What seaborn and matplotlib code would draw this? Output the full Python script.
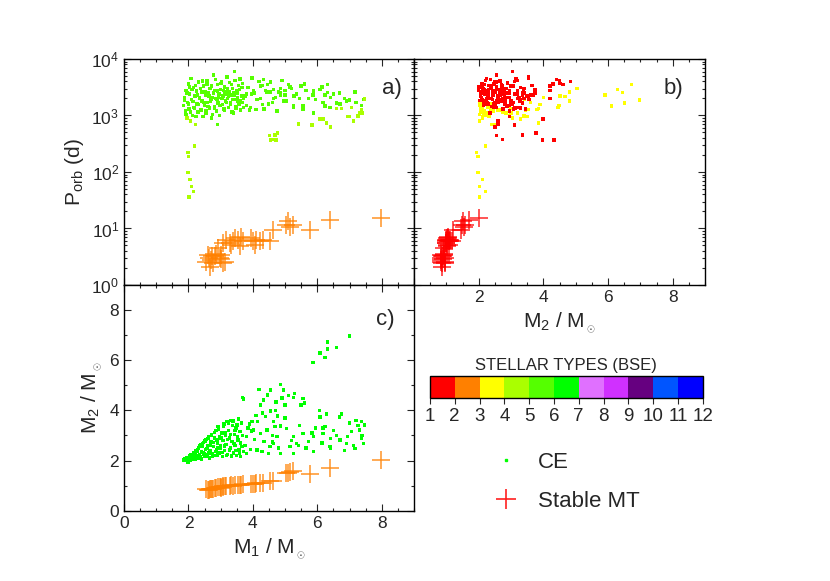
import numpy as np
import pandas as pd
import seaborn as sns
import matplotlib as mpl
import matplotlib.pyplot as plt
from matplotlib.colors import ListedColormap, BoundaryNorm
from matplotlib.lines import Line2D
from matplotlib.ticker import MultipleLocator, LogLocator, NullFormatter

# ---- common envelope systems (M1, M2 in Msun, Porb in days, stellar types) ----
ce_m1 = [
    # short period tail
    1.99, 2.01, 2.19, 1.99, 2.05, 2.10, 2.15, 2.02,
    # clump near 400 d
    4.52, 4.60, 4.68, 4.77, 4.55, 4.72,
    # main cloud
    1.85, 1.88, 1.90, 1.93, 1.95, 1.97, 2.00, 2.02, 2.04, 2.06,
    2.08, 2.10, 2.12, 2.15, 2.17, 2.20, 2.22, 2.25, 2.27, 2.30,
    2.32, 2.35, 2.37, 2.40, 2.42, 2.45, 2.47, 2.50, 2.52, 2.55,
    2.57, 2.60, 2.62, 2.65, 2.67, 2.70, 2.72, 2.75, 2.77, 2.80,
    2.82, 2.85, 2.87, 2.90, 2.92, 2.95, 2.97, 3.00, 3.02, 3.05,
    3.07, 3.10, 3.12, 3.15, 3.17, 3.20, 3.22, 3.25, 3.27, 3.30,
    3.32, 3.35, 3.37, 3.40, 3.42, 3.45, 3.47, 3.50, 3.52, 3.55,
    3.57, 3.60, 3.62, 3.64, 3.67, 3.70,
    3.61, 3.40, 3.66, 3.81, 3.81, 3.97, 4.02, 4.13, 4.24, 4.34,
    4.44, 4.64, 4.55, 4.49, 4.85, 5.26, 4.64, 4.75, 4.85, 5.05,
    5.15, 5.26, 5.35, 5.56, 5.72, 5.88, 5.88, 6.18, 6.24, 6.39,
    6.41, 6.70, 6.91, 7.17, 7.43, 7.37, 7.06, 7.31, 7.46, 7.37,
    7.00, 6.06, 6.29, 6.75, 6.68, 6.08,
    4.19, 4.85, 4.54, 4.46, 4.33, 4.23, 4.95, 5.26, 5.55, 5.49,
    5.00, 3.70, 4.10, 4.30, 3.90, 4.70, 3.95, 5.10, 5.30, 5.60,
    4.90,
    # massive companions
    5.86, 6.24, 6.08, 6.32, 6.59, 6.32, 6.99,
    # long period, lower branch
    5.42, 5.84, 6.17, 6.40, 6.60, 6.93, 7.13, 7.26, 7.39, 2.91,
    # more of the main cloud
    1.87, 1.92, 1.96, 2.01, 2.03, 2.07, 2.11, 2.14, 2.18, 2.21,
    2.24, 2.28, 2.31, 2.34, 2.38, 2.41, 2.44, 2.48, 2.51, 2.54,
    2.58, 2.61, 2.64, 2.68, 2.71, 2.74, 2.78, 2.81, 2.84, 2.88,
    2.91, 2.94, 2.98, 3.01, 3.04, 3.08, 3.11, 3.14, 3.18, 3.21,
    3.24, 3.28, 3.31, 3.34, 3.38, 3.41, 3.44, 3.48, 3.51, 3.54,
    3.58, 3.68, 3.75, 3.85, 3.92, 4.05, 4.15, 4.28, 4.40, 4.60,
    4.80, 5.00, 5.20, 5.45, 5.65, 5.95, 6.15, 6.50, 6.85, 7.20,
]
ce_m2 = [
    1.93, 1.98, 2.21, 1.98, 2.11, 2.03, 2.21, 2.03,
    2.55, 2.74, 3.35, 3.77, 3.97, 4.33,
    2.02, 2.08, 2.05, 2.00, 2.12, 2.04, 2.10, 2.06, 2.18, 2.02,
    2.25, 2.12, 2.20, 2.10, 2.32, 2.05, 2.40, 2.18, 2.35, 2.10,
    2.50, 2.25, 2.62, 2.06, 2.55, 2.32, 2.72, 2.15, 2.45, 2.85,
    2.22, 2.60, 2.95, 2.10, 2.38, 2.75, 3.05, 2.28, 2.55, 2.90,
    2.20, 3.20, 2.45, 2.70, 3.35, 2.30, 2.95, 2.60, 3.10, 2.15,
    2.80, 3.45, 2.40, 3.00, 2.65, 3.55, 2.25, 3.20, 2.90, 2.50,
    3.60, 2.75, 3.40, 2.30, 3.05, 2.60, 3.30, 2.20, 2.95, 3.65,
    2.45, 3.15, 2.70, 3.50, 4.52, 2.35,
    2.15, 2.29, 2.55, 2.29, 2.95, 3.55, 3.21, 2.42, 3.08, 2.75,
    3.21, 3.55, 2.55, 2.29, 2.29, 2.29, 2.69, 2.95, 3.37, 3.28,
    2.55, 2.95, 2.69, 3.08, 2.75, 2.95, 2.35, 3.08, 3.35, 2.55,
    2.88, 2.82, 2.69, 2.49, 2.69, 2.88, 3.15, 3.21, 3.41, 3.55,
    3.50, 3.99, 3.85, 3.85, 3.74, 3.74,
    4.84, 5.04, 4.81, 4.61, 4.41, 4.21, 4.81, 4.52, 4.48, 4.21,
    4.21, 4.45, 3.80, 3.90, 3.45, 4.00, 3.17, 4.60, 4.67, 4.30,
    4.50,
    5.91, 6.10, 6.29, 6.44, 6.51, 6.73, 6.97,
    2.60, 3.10, 3.30, 2.50, 3.00, 2.95, 2.60, 3.40, 3.00, 2.50,
    2.04, 2.03, 2.07, 2.13, 2.00, 2.09, 2.16, 2.24, 2.08, 2.30,
    2.12, 2.44, 2.20, 2.58, 2.14, 2.36, 2.66, 2.26, 2.78, 2.18,
    2.48, 2.88, 2.30, 2.62, 3.00, 2.16, 2.72, 3.12, 2.36, 2.82,
    2.22, 3.25, 2.50, 2.90, 2.32, 3.38, 2.58, 3.10, 2.20, 2.85,
    3.48, 2.42, 3.05, 2.18, 3.58, 2.68, 3.20, 2.40, 3.42, 2.82,
    2.30, 3.00, 2.60, 3.30, 2.45, 2.85, 3.55, 2.35, 3.75, 3.00,
    2.50, 3.70, 2.80, 3.40, 2.50, 3.30, 2.70, 3.20, 2.40, 3.60,
]
ce_porb = [
    219, 186, 288, 97, 74, 55, 45, 36,
    440, 380, 450, 490, 370, 370,
    1500, 2100, 1200, 2800, 900, 1700, 3600, 1300, 2400, 800,
    4500, 1900, 1000, 3100, 1400, 2200, 700, 2700, 1600, 1150,
    3900, 2000, 1250, 2600, 1800, 950, 3300, 1500, 2300, 1100,
    4200, 1700, 2500, 1350, 3000, 1900, 900, 2100, 5200, 1450,
    2800, 2000, 1200, 3500, 1650, 2400, 1000, 2900, 4000, 1550,
    2200, 1300, 3200, 1800, 2600, 4800, 2000, 1400, 3800, 1700,
    2300, 1150, 3000, 2500, 6000, 1900, 1350, 2700, 2100, 3400,
    1600, 4400, 1250, 2200, 3700, 2000,
    1800, 1100, 3100, 2400, 1500, 4600, 2800, 1900, 3300, 1300,
    2600, 2000, 3900, 1600, 2300, 1400, 2900, 1200, 2500, 1800,
    3200, 1500, 2400, 1300, 2000, 2700, 1100, 1700, 2300, 1400,
    2100, 1600, 1800, 2600, 1900, 1500, 1400, 1100, 1950, 1290,
    950, 870, 740, 1340, 2500, 2900,
    4000, 3000, 2600, 3500, 4300, 2000, 1800, 2200, 1500, 3300,
    2800, 1400, 1290, 1580, 1260, 2080, 2390, 3500, 2150, 3600,
    4200,
    2300, 1480, 2900, 2570, 1650, 3550, 1880,
    710, 680, 870, 630, 1340, 950, 800, 975, 1100, 700,
    1850, 1050, 2500, 1600, 3200, 1150, 2900, 1750, 1350, 3400,
    950, 2300, 1550, 2050, 3000, 1250, 4100, 1700, 2600, 1200,
    3600, 1450, 2200, 1800, 3300, 1050, 2500, 1350, 4300, 1900,
    2700, 2100, 1500, 3700, 2000, 2800, 1250, 2400, 1700, 3000,
    2200, 2600, 1600, 3500, 1900, 2300, 4200, 1450, 2500, 1800,
    2900, 1700, 2200, 3100, 1400, 2500, 1900, 3400, 2800, 1700,
    2600, 2300, 3000, 2000, 2800, 1900, 3200, 2400, 2000, 1700,
]
# donor type (panel a) and accretor type (panel b)
ce_type_a = [
    4, 4, 4, 4, 4, 4, 4, 4,
    4, 4, 4, 4, 4, 4,
    5, 5, 5, 5, 4, 5, 5, 5, 5, 4,
    5, 5, 5, 5, 5, 5, 4, 5, 5, 5,
    5, 5, 5, 5, 5, 5, 5, 5, 5, 5,
    5, 5, 5, 5, 5, 5, 5, 5, 5, 5,
    5, 5, 5, 5, 5, 5, 5, 5, 5, 5,
    5, 5, 5, 5, 5, 5, 5, 5, 5, 5,
    5, 5, 5, 5, 5, 5, 5, 5, 5, 5,
    5, 5, 5, 5, 5, 5,
    5, 5, 5, 5, 5, 5, 5, 5, 5, 5,
    5, 5, 5, 5, 5, 5, 5, 5, 5, 5,
    5, 5, 5, 5, 5, 5, 5, 5, 5, 5,
    5, 5, 5, 5, 5, 5, 4, 4, 4, 4,
    4, 4, 4, 4, 5, 5,
    5, 5, 5, 5, 5, 5, 5, 5, 5, 5,
    5, 5, 5, 5, 5, 5, 5, 5, 5, 5,
    5,
    5, 5, 5, 5, 5, 5, 5,
    4, 4, 4, 4, 4, 4, 4, 4, 4, 5,
    5, 5, 5, 5, 5, 5, 5, 5, 5, 5,
    5, 5, 5, 5, 5, 5, 5, 5, 5, 5,
    5, 5, 5, 5, 5, 5, 5, 5, 5, 5,
    5, 5, 5, 5, 5, 5, 5, 5, 5, 5,
    5, 5, 5, 5, 5, 5, 5, 5, 5, 5,
    5, 5, 5, 5, 5, 5, 5, 5, 5, 5,
    5, 5, 5, 5, 5, 5, 5, 5, 5, 5,
]
ce_type_b = [
    3, 3, 3, 3, 3, 3, 3, 3,
    1, 1, 1, 1, 1, 1,
    3, 1, 3, 1, 3, 3, 1, 3, 1, 3,
    1, 1, 3, 1, 3, 1, 3, 1, 3, 3,
    1, 1, 3, 1, 1, 3, 1, 1, 1, 3,
    1, 1, 1, 3, 1, 1, 3, 1, 1, 1,
    1, 1, 3, 1, 1, 1, 3, 1, 1, 1,
    1, 1, 1, 1, 1, 1, 1, 1, 1, 1,
    1, 3, 1, 1, 1, 1, 1, 1, 1, 1,
    1, 1, 3, 1, 1, 1,
    1, 3, 1, 1, 1, 1, 1, 1, 1, 1,
    1, 1, 1, 1, 1, 3, 1, 1, 1, 1,
    1, 1, 1, 1, 1, 1, 1, 1, 1, 1,
    1, 1, 1, 1, 1, 1, 3, 3, 3, 3,
    3, 1, 3, 3, 1, 1,
    1, 3, 3, 1, 1, 1, 3, 3, 3, 1,
    1, 3, 3, 3, 3, 3, 3, 3, 3, 1,
    1,
    3, 3, 3, 3, 3, 3, 3,
    1, 1, 3, 1, 3, 1, 1, 3, 3, 3,
    1, 3, 1, 3, 1, 3, 1, 1, 3, 1,
    3, 1, 1, 1, 1, 3, 1, 1, 1, 3,
    1, 1, 1, 1, 1, 3, 1, 1, 1, 1,
    1, 1, 1, 1, 1, 1, 3, 1, 1, 1,
    1, 1, 1, 1, 1, 1, 1, 1, 1, 1,
    1, 1, 1, 1, 1, 1, 1, 1, 1, 1,
    1, 1, 1, 1, 1, 1, 1, 1, 1, 3,
]
ce_type_c = 6

# ---- stable mass transfer systems ----
smt_m1 = [2.55, 2.61, 2.66, 2.71, 2.73, 2.76, 2.81, 2.87, 2.92, 2.97,
          3.02, 3.07, 3.12, 3.07, 3.17, 3.28, 3.33, 3.38, 3.43, 3.54,
          3.59, 3.64, 3.69, 3.95, 4.00, 4.05, 4.10, 4.21, 4.31, 4.52,
          4.62, 5.03, 5.08, 5.14, 5.24, 5.76, 6.38, 7.98, 2.63, 3.00]
smt_m2 = [0.85, 0.84, 0.86, 0.85, 0.87, 0.88, 0.90, 0.92, 0.93, 0.95,
          0.94, 0.96, 0.97, 0.98, 0.99, 1.00, 1.01, 1.00, 1.02, 1.03,
          1.02, 1.04, 1.05, 1.06, 1.08, 1.07, 1.09, 1.10, 1.12, 1.19,
          1.20, 1.49, 1.52, 1.55, 1.58, 1.45, 1.69, 2.02, 0.82, 0.91]
smt_porb = [2.6, 3.4, 2.1, 2.8, 3.3, 2.4, 3.2, 3.6, 4.5, 3.0,
            3.4, 2.4, 2.6, 5.5, 6.3, 5.5, 5.1, 5.9, 6.8, 6.3,
            4.8, 7.2, 5.9, 6.8, 5.9, 5.1, 6.3, 5.9, 6.3, 6.0,
            9.4, 11.6, 13.8, 10.7, 11.6, 9.4, 14.2, 15.2, 3.0, 2.9]
smt_type_a = 2
smt_type_b = 1

# BSE stellar type colours 1..11
type_colors = ['#ff0000', '#ff8000', '#ffff00', '#aaff00', '#55ff00', '#00ff00',
               '#e070ff', '#d030ff', '#660080', '#0055ff', '#0000ff']
palette = {i + 1: c for i, c in enumerate(type_colors)}

sns.set_style("ticks")
plt.rcParams['font.family'] = ['Liberation Sans', 'DejaVu Sans']
plt.rcParams['mathtext.fontset'] = 'custom'
plt.rcParams['mathtext.rm'] = 'Liberation Sans'
plt.rcParams['mathtext.it'] = 'Liberation Sans:italic'
plt.rcParams['axes.linewidth'] = 1.0
plt.rcParams['axes.edgecolor'] = 'black'

ce = pd.DataFrame({'m1': ce_m1, 'm2': ce_m2, 'porb': ce_porb,
                   'ta': ce_type_a, 'tb': ce_type_b})
ce['tc'] = ce_type_c
smt = pd.DataFrame({'m1': smt_m1, 'm2': smt_m2, 'porb': smt_porb})

fig = plt.figure(figsize=(8.3, 5.81), dpi=100)
ax_a = fig.add_axes([0.1494, 0.5095, 0.3494, 0.389])
ax_b = fig.add_axes([0.4988, 0.5095, 0.3506, 0.389])
ax_c = fig.add_axes([0.1494, 0.121, 0.3494, 0.3885])

dot = dict(marker='s', s=6, linewidth=0, legend=False)
cross = dict(marker='+', s=160, linewidth=1.1, alpha=0.85, legend=False)

# a) M1 vs Porb
sns.scatterplot(data=ce, x='m1', y='porb', hue='ta', palette=palette, ax=ax_a, **dot)
sns.scatterplot(data=smt, x='m1', y='porb', color=palette[smt_type_a], ax=ax_a, **cross)

# b) M2 vs Porb (red on top of yellow)
ce_b = ce.sort_values('tb', ascending=False)
sns.scatterplot(data=ce_b, x='m2', y='porb', hue='tb', palette=palette, ax=ax_b, **dot)
sns.scatterplot(data=smt, x='m2', y='porb', color=palette[smt_type_b], ax=ax_b, **cross)

# c) M1 vs M2
sns.scatterplot(data=ce, x='m1', y='m2', hue='tc', palette=palette, ax=ax_c, **dot)
sns.scatterplot(data=smt, x='m1', y='m2', color=palette[smt_type_a], ax=ax_c, **cross)

for ax in (ax_a, ax_b):
    ax.set_yscale('log')
    ax.set_ylim(1, 1e4)
    ax.yaxis.set_major_locator(LogLocator(base=10, numticks=10))
    ax.yaxis.set_minor_locator(LogLocator(base=10, subs=np.arange(2, 10), numticks=10))
    ax.yaxis.set_minor_formatter(NullFormatter())

for ax in (ax_a, ax_b, ax_c):
    ax.set_xlim(0, 9)
    ax.set_xticks([0, 2, 4, 6, 8])
    ax.xaxis.set_minor_locator(MultipleLocator(0.5))
    ax.tick_params(which='both', direction='in', top=True, right=True,
                   labelsize=12.5, width=0.8)
    ax.tick_params(which='major', length=5)
    ax.tick_params(which='minor', length=2.5)
    ax.set_xlabel('')
    ax.set_ylabel('')

ax_a.tick_params(labelbottom=False)
ax_b.tick_params(labelleft=False)
ax_b.set_xticklabels(['', '2', '4', '6', '8'])

ax_c.set_ylim(0, 9)
ax_c.set_yticks([0, 2, 4, 6, 8])
ax_c.yaxis.set_minor_locator(MultipleLocator(1))

msun = 'M$_{{}_\\odot}$'
ax_a.set_ylabel('P$_{\\rm orb}$ (d)', fontsize=15)
ax_b.set_xlabel('M$_2$ / ' + msun, fontsize=15)
ax_c.set_ylabel('M$_2$ / ' + msun, fontsize=15)
ax_c.set_xlabel('M$_1$ / ' + msun, fontsize=15)

ax_a.text(0.925, 0.87, 'a)', transform=ax_a.transAxes, fontsize=16, ha='center', va='center')
ax_b.text(0.89, 0.87, 'b)', transform=ax_b.transAxes, fontsize=16, ha='center', va='center')
ax_c.text(0.90, 0.845, 'c)', transform=ax_c.transAxes, fontsize=16, ha='center', va='center')

# stellar type colour bar
cax = fig.add_axes([0.518, 0.3155, 0.3286, 0.0373])
cmap = ListedColormap(type_colors)
norm = BoundaryNorm(np.arange(1, 13), cmap.N)
cb = fig.colorbar(mpl.cm.ScalarMappable(norm=norm, cmap=cmap), cax=cax,
                  orientation='horizontal', ticks=np.arange(1, 13))
cb.outline.set_linewidth(1.0)
cb.ax.tick_params(labelsize=13.5, length=4, width=0.8, direction='out')
cax.set_title('STELLAR TYPES (BSE)', fontsize=12, pad=4)

# legend
handles = [Line2D([], [], marker='s', ls='', color=palette[6], markersize=2),
           Line2D([], [], marker='+', ls='', color='#ff2020', markersize=15, mew=1.2)]
fig.legend(handles, ['CE', 'Stable MT'], loc='upper left', bbox_to_anchor=(0.583, 0.222),
           frameon=False, fontsize=16, handletextpad=0.45, labelspacing=0.8,
           borderpad=0, borderaxespad=0)

fig.savefig('out.png', dpi=100)
